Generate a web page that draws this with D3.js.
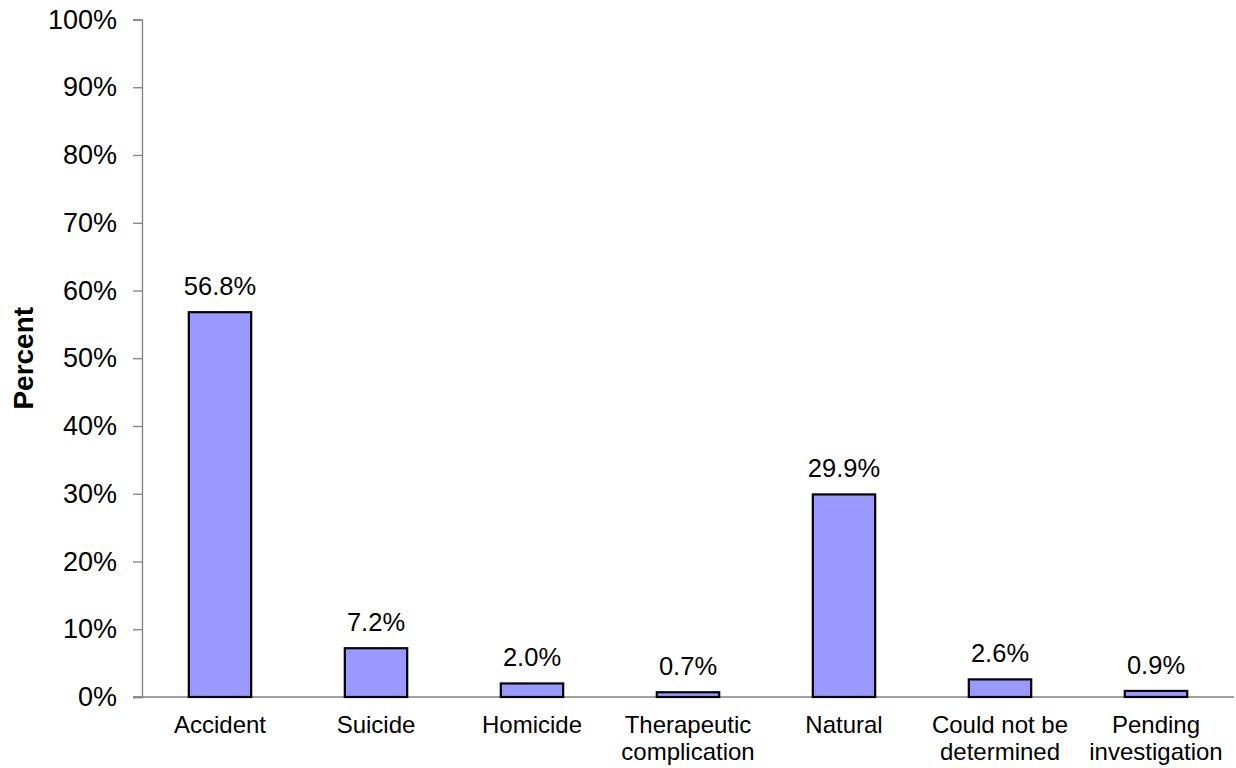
<!DOCTYPE html>
<html>
<head>
<meta charset="utf-8">
<script src="https://cdn.jsdelivr.net/npm/d3@7"></script>
<style>
  html, body { margin: 0; padding: 0; background: #fff; }
  svg { display: block; font-family: "Liberation Sans", Arial, sans-serif; }
</style>
</head>
<body>
<svg id="chart" width="1236" height="768"></svg>
<script>
// Manner of death, share of cases
const categories = [
  ["Accident"],
  ["Suicide"],
  ["Homicide"],
  ["Therapeutic", "complication"],
  ["Natural"],
  ["Could not be", "determined"],
  ["Pending", "investigation"]
];
const values = [56.8, 7.2, 2.0, 0.7, 29.9, 2.6, 0.9];
const yTicks = [0, 10, 20, 30, 40, 50, 60, 70, 80, 90, 100];

const svg = d3.select("#chart");
const plotLeft = 142, plotRight = 1234, plotTop = 19.5, plotBottom = 697;

const keys = categories.map(c => c.join(" "));
const x = d3.scaleBand()
  .domain(keys)
  .range([plotLeft, plotRight])
  .paddingInner(0.6)
  .paddingOuter(0.3);

const y = d3.scaleLinear().domain([0, 100]).range([plotBottom, plotTop]);

// Y axis
const yAxis = svg.append("g")
  .attr("transform", `translate(${plotLeft},0)`)
  .call(d3.axisLeft(y).tickValues(yTicks).tickFormat(d => d + "%").tickSize(9).tickPadding(16));
yAxis.select(".domain").attr("stroke", "#808080").attr("stroke-width", 1.3);
yAxis.selectAll(".tick line").attr("stroke", "#808080").attr("stroke-width", 1.3);
yAxis.selectAll(".tick text")
  .attr("fill", "#000")
  .style("font-size", "27px")
  .style("font-family", "'Liberation Sans', Arial, sans-serif");

// Category baseline
svg.append("line")
  .attr("x1", plotLeft - 9).attr("x2", plotRight)
  .attr("y1", y(0)).attr("y2", y(0))
  .attr("stroke", "#808080").attr("stroke-width", 1.3);

// Bars
svg.append("g").selectAll("rect")
  .data(values)
  .join("rect")
  .attr("x", (d, i) => x(keys[i]))
  .attr("width", x.bandwidth())
  .attr("y", d => y(d))
  .attr("height", d => y(0) - y(d))
  .attr("fill", "#9999FF")
  .attr("stroke", "#000")
  .attr("stroke-width", 2.2);

// Value labels
svg.append("g").selectAll("text")
  .data(values)
  .join("text")
  .attr("x", (d, i) => x(keys[i]) + x.bandwidth() / 2)
  .attr("y", d => y(d) - 17)
  .attr("text-anchor", "middle")
  .style("font-size", "25.5px")
  .text(d => d.toFixed(1) + "%");

// Category labels
const cat = svg.append("g").selectAll("text")
  .data(categories)
  .join("text")
  .attr("x", (d, i) => x(keys[i]) + x.bandwidth() / 2)
  .attr("y", 733)
  .attr("text-anchor", "middle")
  .style("font-size", "24px");
cat.selectAll("tspan")
  .data(d => d)
  .join("tspan")
  .attr("x", function () { return d3.select(this.parentNode).attr("x"); })
  .attr("dy", (d, i) => i === 0 ? 0 : 27)
  .text(d => d);

// Y axis title
svg.append("text")
  .attr("transform", `translate(33,${(plotTop + plotBottom) / 2}) rotate(-90)`)
  .attr("text-anchor", "middle")
  .style("font-size", "28px")
  .style("font-weight", "bold")
  .text("Percent");
</script>
</body>
</html>
